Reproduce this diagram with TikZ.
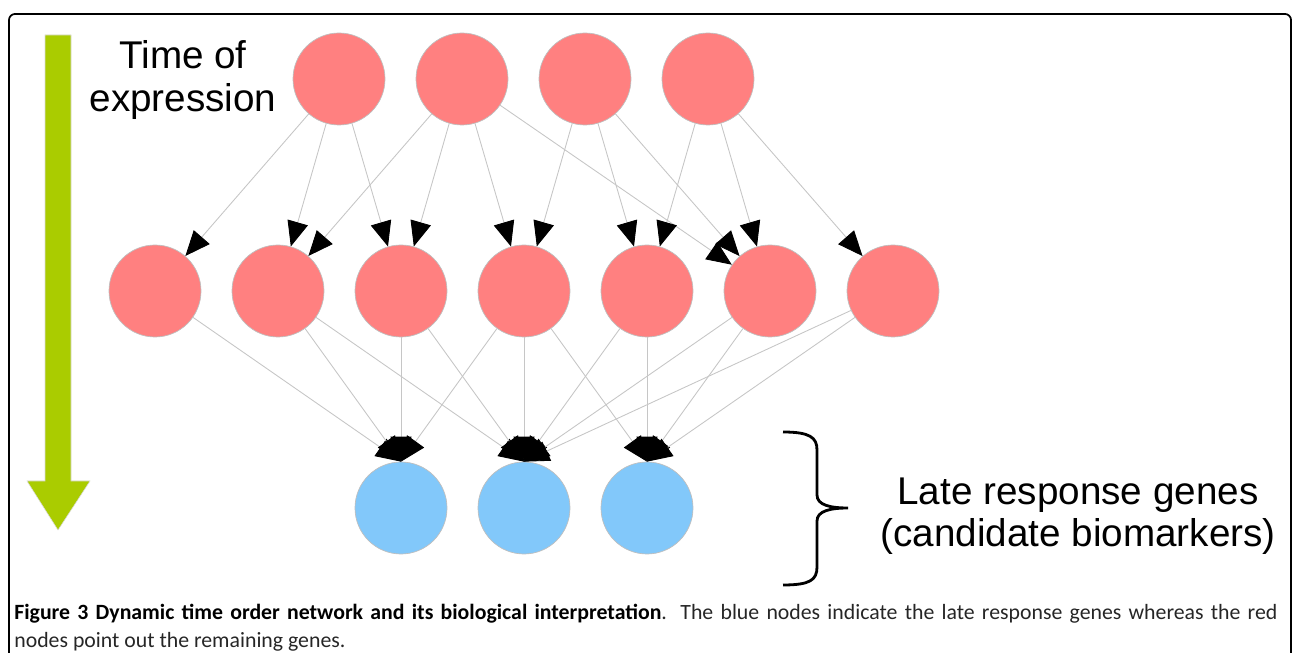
\documentclass[tikz,border=0pt]{standalone}
\usepackage{fontspec}
\newfontfamily\labelfont{Liberation Sans}
\newfontfamily\capfont{Carlito}
\usetikzlibrary{arrows.meta, positioning}

\definecolor{genered}{RGB}{255,128,128}
\definecolor{geneblue}{RGB}{130,200,250}
\definecolor{timegreen}{RGB}{170,204,0}

\begin{document}
\begin{tikzpicture}[
    redgene/.style={draw=gray!50, fill=genered, circle, minimum size=1.84cm, inner sep=0pt},
    bluegene/.style={draw=gray!50, fill=geneblue, circle, minimum size=1.84cm, inner sep=0pt},
    link/.style={draw=gray!45, line width=0.5pt, -{Triangle[length=0.5cm, width=0.42cm, color=black]}},
    bigtext/.style={font={\labelfont\fontsize{22}{24}\selectfont}, align=center}
]
    \useasboundingbox (0,0) rectangle (25.86,-13.06);

    % Frame
    \draw[line width=1pt, rounded corners=0.12cm] (0.18,-13.3) -- (0.18,-0.28) -- (25.82,-0.28) -- (25.82,-13.3);

    % Time arrow
    \fill[timegreen, draw=gray!30, line width=0.3pt] (0.90,-0.70) -- (1.42,-0.70) -- (1.42,-9.62) -- (1.80,-9.62)
        -- (1.16,-10.60) -- (0.54,-9.62) -- (0.90,-9.62) -- cycle;
    \node[bigtext] (timelabel) at (3.66,-1.60) {Time of\\expression};

    % Nodes
    \node[redgene] (t1) at (6.78, -1.58) {};
    \node[redgene] (t2) at (9.24, -1.58) {};
    \node[redgene] (t3) at (11.70, -1.58) {};
    \node[redgene] (t4) at (14.16, -1.58) {};

    \node[redgene] (m1) at (3.10, -5.82) {};
    \node[redgene] (m2) at (5.56, -5.82) {};
    \node[redgene] (m3) at (8.02, -5.82) {};
    \node[redgene] (m4) at (10.48, -5.82) {};
    \node[redgene] (m5) at (12.94, -5.82) {};
    \node[redgene] (m6) at (15.40, -5.82) {};
    \node[redgene] (m7) at (17.86, -5.82) {};

    \node[bluegene] (b1) at (8.02, -10.16) {};
    \node[bluegene] (b2) at (10.48, -10.16) {};
    \node[bluegene] (b3) at (12.94, -10.16) {};

    % Arrows
    \draw[link] (t1) -- (m1);
    \draw[link] (t1) -- (m2);
    \draw[link] (t1) -- (m3);
    \draw[link] (t2) -- (m2);
    \draw[link] (t2) -- (m3);
    \draw[link] (t2) -- (m4);
    \draw[link] (t2) -- (m6);
    \draw[link] (t3) -- (m4);
    \draw[link] (t3) -- (m5);
    \draw[link] (t3) -- (m6);
    \draw[link] (t4) -- (m5);
    \draw[link] (t4) -- (m6);
    \draw[link] (t4) -- (m7);

    \draw[link] (m1) -- (b1.north);
    \draw[link] (m2) -- (b1.north);
    \draw[link] (m2) -- (b2.north);
    \draw[link] (m3) -- (b1.north);
    \draw[link] (m3) -- (b2.north);
    \draw[link] (m4) -- (b1.north);
    \draw[link] (m4) -- (b2.north);
    \draw[link] (m4) -- (b3.north);
    \draw[link] (m5) -- (b2.north);
    \draw[link] (m5) -- (b3.north);
    \draw[link] (m6) -- (b2.north);
    \draw[link] (m6) -- (b3.north);
    \draw[link] (m7) -- (b2.north);
    \draw[link] (m7) -- (b3.north);

    % Brace and label
    \coordinate (bracetop) at (15.66,-8.64);
    \coordinate (bracetip) at (16.96,-10.16);
    \coordinate (bracebot) at (15.66,-11.70);
    \draw[line width=1.6pt] (bracetop) .. controls (16.2,-8.64) and (16.34,-8.75) .. (16.34,-9.0)
        -- (16.34,-9.9) .. controls (16.34,-10.1) and (16.6,-10.16) .. (bracetip)
        .. controls (16.6,-10.16) and (16.34,-10.22) .. (16.34,-10.42)
        -- (16.34,-11.34) .. controls (16.34,-11.6) and (16.2,-11.70) .. (bracebot);
    \node[bigtext] (latelabel) at (21.56,-10.32) {Late response genes\\(candidate biomarkers)};

    % Caption
    \node[anchor=north west, inner sep=0pt, align=left, text=black!85,
        font={\capfont\fontsize{12.4}{15.6}\selectfont}] (caption) at (0.28,-12.08)
        {\makebox[25.26cm][s]{\textcolor{black}{\textbf{Figure 3 Dynamic time order network and its biological interpretation}}. The blue nodes indicate the late response genes whereas the red}\\
        nodes point out the remaining genes.};

\end{tikzpicture}
\end{document}
